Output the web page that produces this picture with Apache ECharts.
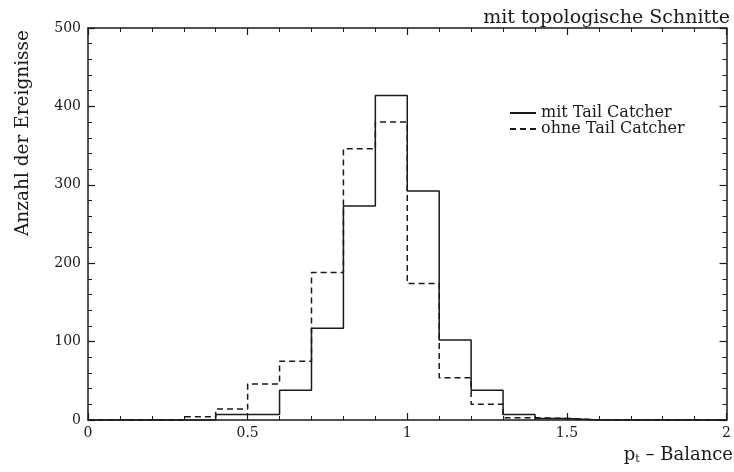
<!DOCTYPE html>
<html><head><meta charset="utf-8">
<script src="https://cdn.jsdelivr.net/npm/echarts@6/dist/echarts.min.js"></script>
<style>html,body{margin:0;padding:0;background:#fff}#c{width:734px;height:472px}</style>
</head><body><div id="c"></div>
<script>
// bin edges (left edges) of the p_t-balance histogram, width 0.1
const binLeft = [0,0.1,0.2,0.3,0.4,0.5,0.6,0.7,0.8,0.9,1.0,1.1,1.2,1.3,1.4,1.5,1.6,1.7,1.8,1.9];
const lastEdge = 2.0;
// counts per bin
const mitTail  = [0,0,0,0,7,7,38,117,273,414,292,102,38,7,2,0,0,0,0,0];
const ohneTail = [0,0,0,4,14,46,75,188,346,380,174,54,20,3,2,0,0,0,0,0];
const seriesNames = ['mit Tail Catcher','ohne Tail Catcher'];
const titleText = 'mit topologische Schnitte';
const yName = 'Anzahl der Ereignisse';

function steps(vals){
  const d = binLeft.map((x,i)=>[x, vals[i]]);
  d.push([lastEdge, vals[vals.length-1]]);
  return d;
}
const FONT = 'DejaVu Serif';
const INK = '#1a1a1a';
const chart = echarts.init(document.getElementById('c'), null, {renderer:'canvas'});
function ax(extra){
  return Object.assign({
    type:'value', min:0,
    axisLine:{show:true, onZero:false, lineStyle:{color:INK, width:1.5}},
    axisTick:{show:true, inside:true, length:7, lineStyle:{color:INK, width:1.2}},
    minorTick:{show:true, splitNumber:5, length:4, lineStyle:{color:INK, width:1}},
    splitLine:{show:false}
  }, extra);
}
chart.setOption({
  animation:false,
  backgroundColor:'#fff',
  grid:{left:88, right:6, top:28, bottom:52, containLabel:false},
  title:{text:titleText, right:4, top:9, padding:0,
    textStyle:{fontFamily:FONT, fontWeight:'normal', fontSize:19, color:INK}},
  legend:{
    orient:'vertical', left:509, top:105, padding:0, itemWidth:26, itemHeight:12, itemGap:0,
    itemStyle:{opacity:0},
    textStyle:{fontFamily:FONT, fontSize:16, color:INK},
    data:seriesNames
  },
  xAxis:[
    ax({max:2, interval:0.5, position:'bottom',
      axisLabel:{fontFamily:FONT, fontSize:14, color:INK, margin:6}}),
    ax({max:2, interval:0.5, position:'top', axisLabel:{show:false}})
  ],
  yAxis:[
    ax({max:500, interval:100, position:'left',
      axisLabel:{fontFamily:FONT, fontSize:14, color:INK, margin:7}}),
    ax({max:500, interval:100, position:'right', axisLabel:{show:false}})
  ],
  graphic:[
    {type:'text', x:23, y:133, rotation:Math.PI/2,
      style:{text:yName, font:'18.5px "DejaVu Serif"', fill:INK, align:'center', verticalAlign:'middle'}},
    {type:'text', right:1, top:446,
      style:{text:'{p|p}{s|t}{p| – Balance}', fill:INK,
        rich:{p:{fontFamily:FONT, fontSize:18, color:INK}, s:{fontFamily:FONT, fontSize:11, color:INK, padding:[9,0,0,0]}}}}
  ],
  series:[
    {name:seriesNames[0], type:'line', step:'end', data:steps(mitTail), symbol:'none',
      lineStyle:{color:INK, width:1.5, type:'solid'}, itemStyle:{color:INK}},
    {name:seriesNames[1], type:'line', step:'end', data:steps(ohneTail), symbol:'none',
      lineStyle:{color:INK, width:1.5, type:[6,4]}, itemStyle:{color:INK}}
  ]
});
</script></body></html>
